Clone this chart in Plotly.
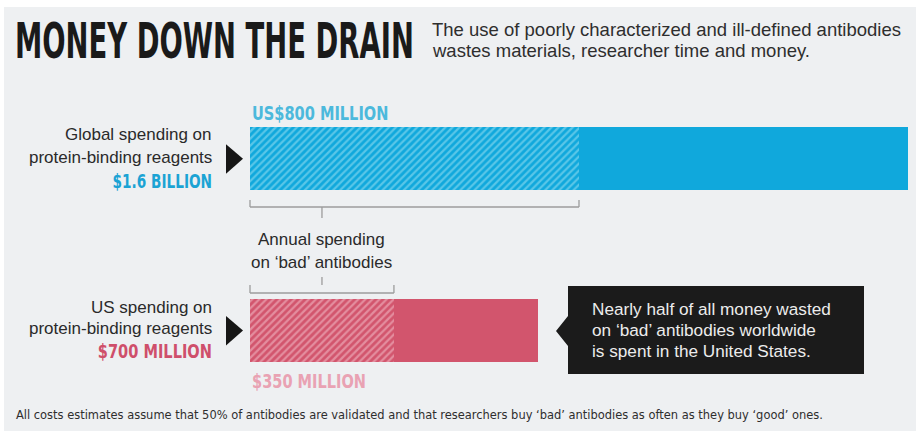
import json
import plotly.graph_objects as go

# ---- data (millions of US dollars) ----
regions = ["Global", "US"]
total_spend = [1600, 700]
bad_spend = [800, 350]
good_spend = [t - b for t, b in zip(total_spend, bad_spend)]

total_labels = ["$1.6 BILLION", "$700 MILLION"]
bad_labels = ["US$800 MILLION", "$350 MILLION"]
region_lines = [["Global spending on", "protein-binding reagents"],
                ["US spending on", "protein-binding reagents"]]

# ---- canvas ----
W, H = 916, 433
BG = "#eef0f2"
BLUE, BLUE_LIGHT, BLUE_TEXT, BLUE_LABEL = "#10a8dc", "#a2e4f3", "#1ba3d4", "#4cb9dc"
PINK, PINK_LIGHT, PINK_TEXT, PINK_LABEL = "#d2556d", "#f5c6d0", "#cf4f6b", "#e9a2b3"
GRAY = "#9c9c9c"
SANS = "Liberation Sans, Arial, Helvetica, sans-serif"
NARROW = "DejaVu Sans Condensed, Liberation Sans Narrow, Arial Narrow, sans-serif"


def px(x):
    return x / W


def py(y):
    return 1 - y / H


# x scale: value 0 sits at 250 px, value 1600 at 908 px
x_left, x_right = 250, 908
scale = (x_right - x_left) / max(total_spend)
x_range = [(0 - x_left) / scale, (W - x_left) / scale]

# y scale: Global centred at 158.75 px, US at 330.5 px (category positions 1 and 0)
yc_global, yc_us = 158.75, 330.5
step = yc_us - yc_global
y_range = [1 - (H - yc_global) / step, 1 + yc_global / step]
bar_width = 63 / step

cats = ["US", "Global"]
colors = {"Global": (BLUE, BLUE_LIGHT), "US": (PINK, PINK_LIGHT)}

fig = go.Figure()
for i, r in enumerate(regions):
    solid, light = colors[r]
    fig.add_trace(go.Bar(
        y=[r], x=[bad_spend[i]], orientation="h", width=bar_width,
        marker=dict(color=solid, line=dict(width=0),
                    pattern=dict(shape="/", fgcolor=light, bgcolor=solid,
                                 size=5, solidity=0.45, fillmode="overlay")),
        hoverinfo="skip", showlegend=False,
    ))
    fig.add_trace(go.Bar(
        y=[r], x=[good_spend[i]], orientation="h", width=bar_width,
        marker=dict(color=solid, line=dict(width=0)),
        hoverinfo="skip", showlegend=False,
    ))

shapes = [
    # background panel
    dict(type="rect", xref="paper", yref="paper", x0=px(4), x1=px(W), y0=py(431), y1=py(7),
         fillcolor=BG, line=dict(width=0), layer="below"),
]

# pointer triangles next to the region labels
for yc in (yc_global, yc_us):
    shapes.append(dict(
        type="path", xref="paper", yref="paper",
        path=f"M {px(226)} {py(yc - 14.5)} L {px(243)} {py(yc)} L {px(226)} {py(yc + 15)} Z",
        fillcolor="#161616", line=dict(width=0),
    ))

# brackets spanning the 'bad' spending part of each bar
label_x = bad_spend[1] / 2
br_global, br_us = 207, 293
line_style = dict(color=GRAY, width=1.3)
for yb, bad, up in ((br_global, bad_spend[0], 200), (br_us, bad_spend[1], 285)):
    shapes += [
        dict(type="line", xref="x", yref="paper", x0=0, x1=bad, y0=py(yb), y1=py(yb), line=line_style),
        dict(type="line", xref="x", yref="paper", x0=0, x1=0, y0=py(yb), y1=py(up), line=line_style),
        dict(type="line", xref="x", yref="paper", x0=bad, x1=bad, y0=py(yb), y1=py(up), line=line_style),
    ]
shapes.append(dict(type="line", xref="x", yref="paper", x0=label_x, x1=label_x,
                   y0=py(br_global), y1=py(218), line=line_style))
shapes.append(dict(type="line", xref="x", yref="paper", x0=label_x, x1=label_x,
                   y0=py(285), y1=py(277), line=line_style))

# callout box with a notch pointing at the US bar
bx0, bx1, by0, by1 = 568, 864, 286, 374
shapes.append(dict(
    type="path", xref="paper", yref="paper",
    path=(f"M {px(bx0)} {py(by0)} L {px(bx1)} {py(by0)} L {px(bx1)} {py(by1)} "
          f"L {px(bx0)} {py(by1)} L {px(bx0)} {py(346)} L {px(556)} {py(331)} "
          f"L {px(bx0)} {py(316)} Z"),
    fillcolor="#1b1b1b", line=dict(width=0),
))

annotations = []
squeeze = {}  # annotation index -> (horizontal scale, anchor)


def note(text, x, y, size, color="#2a2a2a", family=SANS, xanchor="left", align="left", weight="normal",
         xref="paper", narrow=None):
    if narrow is not None:
        squeeze[len(annotations)] = [narrow, xanchor]
    annotations.append(dict(
        text=text, x=x if xref != "paper" else px(x), y=py(y), xref=xref, yref="paper",
        xanchor=xanchor, yanchor="middle", align=align, showarrow=False,
        font=dict(size=size, color=color, family=family, weight=weight),
    ))


note("MONEY DOWN THE DRAIN", 13, 41, 50, color="#1a1a1a", family=NARROW, weight="bold", narrow=0.61)
note("The use of poorly characterized and ill-defined antibodies", 430, 29, 18.5, color="#2e2e2e")
note("wastes materials, researcher time and money.", 430, 50, 18.5, color="#2e2e2e")

# region labels
label_rows = [(135, 157, 181, BLUE_TEXT, 0.76), (307, 328, 351, PINK_TEXT, 0.81)]
for lines, total_txt, (y1, y2, y3, col, sq) in zip(region_lines, total_labels, label_rows):
    note(lines[0], 214, y1, 17, xanchor="right", align="right")
    note(lines[1], 214, y2, 17, xanchor="right", align="right")
    note(total_txt, 214, y3, 20, color=col, family=NARROW, xanchor="right", align="right",
         weight="bold", narrow=sq)

# 'bad' spending amounts, left-aligned on the bar start
note(bad_labels[0], 0, 113, 20, color=BLUE_LABEL, family=NARROW, weight="bold", xref="x", narrow=0.81)
note(bad_labels[1], 0, 381, 20, color=PINK_LABEL, family=NARROW, weight="bold", xref="x", narrow=0.81)

note("Annual spending", label_x, 240, 17, xanchor="center", align="center", xref="x")
note("on ‘bad’ antibodies", label_x, 262, 17, xanchor="center", align="center", xref="x")

callout = ["Nearly half of all money wasted", "on ‘bad’ antibodies worldwide", "is spent in the United States."]
for k, line in enumerate(callout):
    note(line, 590, 309 + 21 * k, 17.2, color="#ececec")

note("All costs estimates assume that 50% of antibodies are validated and that researchers buy ‘bad’ "
     "antibodies as often as they buy ‘good’ ones.", 14, 414, 13, color="#2e2e2e", family=NARROW,
     narrow=0.98)

fig.update_layout(
    width=W, height=H,
    margin=dict(l=0, r=0, t=0, b=0),
    paper_bgcolor="white", plot_bgcolor="rgba(0,0,0,0)",
    barmode="stack", bargap=0,
    xaxis=dict(range=x_range, domain=[0, 1], visible=False, fixedrange=True),
    yaxis=dict(type="category", categoryorder="array", categoryarray=cats, range=y_range,
               domain=[0, 1], visible=False, fixedrange=True),
    shapes=shapes, annotations=annotations,
    showlegend=False,
)

# narrow the condensed headline-style labels horizontally, keeping their anchor edge fixed
post = """
var gd = document.getElementById('{plot_id}');
var squeeze = SQUEEZE;
gd.querySelectorAll('g.annotation').forEach(function (g) {
  var idx = g.getAttribute('data-index');
  if (!(idx in squeeze)) return;
  var s = squeeze[idx][0], anchor = squeeze[idx][1];
  var t = g.querySelector('text.annotation-text');
  if (!t) return;
  var bb = t.getBBox();
  var ref = anchor === 'right' ? bb.x + bb.width : (anchor === 'center' ? bb.x + bb.width / 2 : bb.x);
  t.setAttribute('transform', 'translate(' + (ref * (1 - s)) + ',0) scale(' + s + ',1)');
});
""".replace("SQUEEZE", json.dumps({str(k): v for k, v in squeeze.items()}))

fig.write_html("out.html", config={"displayModeBar": False}, post_script=post)
